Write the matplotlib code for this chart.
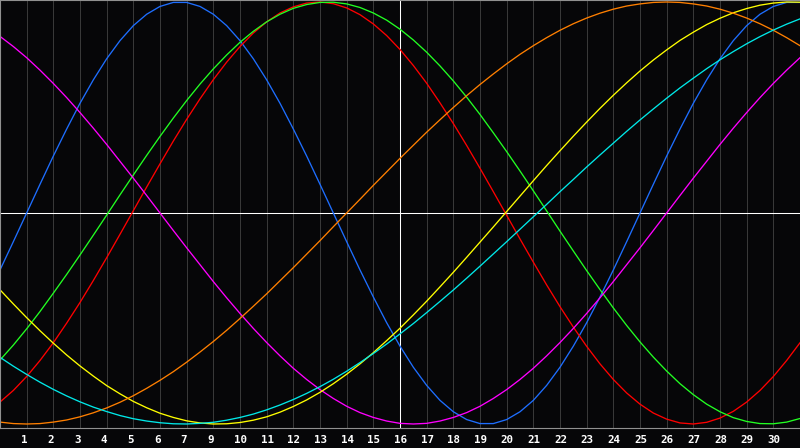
import numpy as np
import matplotlib
matplotlib.use('Agg')
import matplotlib.pyplot as plt

# biorhythm chart, values in percent sampled every half day
days = np.arange(0, 30.01, 0.5)

physical = [-27, -13.6, 0, 13.6, 27, 39.8, 52, 63.1, 73.1, 81.7, 88.8, 94.2, 97.9, 99.8, 99.8, 97.9, 94.2, 88.8, 81.7, 73.1, 63.1, 52, 39.8, 27, 13.6, 0, -13.6, -27, -39.8, -52, -63.1, -73.1, -81.7, -88.8, -94.2, -97.9, -99.8, -99.8, -97.9, -94.2, -88.8, -81.7, -73.1, -63.1, -52, -39.8, -27, -13.6, 0, 13.6, 27, 39.8, 52, 63.1, 73.1, 81.7, 88.8, 94.2, 97.9, 99.8, 99.8]
emotional = [-89.6, -84.1, -77.5, -69.9, -61.5, -52.2, -42.4, -32, -21.2, -10.1, 1.1, 12.3, 23.3, 34.1, 44.4, 54.1, 63.2, 71.5, 78.9, 85.3, 90.6, 94.8, 97.7, 99.5, 100, 99.2, 97.2, 94, 89.6, 84.1, 77.5, 69.9, 61.5, 52.2, 42.4, 32, 21.2, 10.1, -1.1, -12.3, -23.3, -34.1, -44.4, -54.1, -63.2, -71.5, -78.9, -85.3, -90.6, -94.8, -97.7, -99.5, -100, -99.2, -97.2, -94, -89.6, -84.1, -77.5, -69.9, -61.5]
intellectual = [-69.7, -62.6, -54.9, -46.7, -38, -29.1, -19.9, -10.5, -1, 8.6, 18, 27.3, 36.3, 45, 53.3, 61.1, 68.3, 74.9, 80.9, 86.1, 90.6, 94.2, 97, 98.8, 99.8, 99.9, 99.1, 97.4, 94.8, 91.4, 87.1, 82, 76.2, 69.7, 62.6, 54.9, 46.7, 38, 29.1, 19.9, 10.5, 1, -8.6, -18, -27.3, -36.3, -45, -53.3, -61.1, -68.3, -74.9, -80.9, -86.1, -90.6, -94.2, -97, -98.8, -99.8, -99.9, -99.1, -97.4]
intuitive = [83.7, 78.9, 73.6, 67.7, 61.4, 54.7, 47.6, 40.2, 32.5, 24.5, 16.5, 8.3, 0, -8.3, -16.5, -24.5, -32.5, -40.2, -47.6, -54.7, -61.4, -67.7, -73.6, -78.9, -83.7, -87.9, -91.6, -94.6, -96.9, -98.6, -99.7, -100, -99.7, -98.6, -96.9, -94.6, -91.6, -87.9, -83.7, -78.9, -73.6, -67.7, -61.4, -54.7, -47.6, -40.2, -32.5, -24.5, -16.5, -8.3, 0, 8.3, 16.5, 24.5, 32.5, 40.2, 47.6, 54.7, 61.4, 67.7, 73.6]
aesthetic = [-36.4, -43.1, -49.6, -55.8, -61.7, -67.3, -72.5, -77.3, -81.8, -85.7, -89.3, -92.3, -94.9, -96.9, -98.5, -99.5, -100, -99.9, -99.3, -98.2, -96.6, -94.4, -91.7, -88.6, -85, -80.9, -76.4, -71.5, -66.2, -60.5, -54.6, -48.3, -41.8, -35, -28.1, -21, -13.8, -6.6, 0.7, 8, 15.3, 22.5, 29.5, 36.4, 43.1, 49.6, 55.8, 61.7, 67.3, 72.5, 77.3, 81.8, 85.7, 89.3, 92.3, 94.9, 96.9, 98.5, 99.5, 100, 99.9]
awareness = [-99.1, -99.8, -100, -99.8, -99.1, -98.1, -96.6, -94.7, -92.4, -89.7, -86.6, -83.1, -79.3, -75.2, -70.7, -65.9, -60.9, -55.6, -50, -44.2, -38.3, -32.1, -25.9, -19.5, -13.1, -6.5, 0, 6.5, 13.1, 19.5, 25.9, 32.1, 38.3, 44.2, 50, 55.6, 60.9, 65.9, 70.7, 75.2, 79.3, 83.1, 86.6, 89.7, 92.4, 94.7, 96.6, 98.1, 99.1, 99.8, 100, 99.8, 99.1, 98.1, 96.6, 94.7, 92.4, 89.7, 86.6, 83.1, 79.3]
spiritual = [-68.4, -72.6, -76.5, -80.2, -83.6, -86.7, -89.5, -92, -94.1, -96, -97.5, -98.6, -99.4, -99.9, -100, -99.7, -99.2, -98.2, -96.9, -95.3, -93.3, -91, -88.4, -85.5, -82.3, -78.8, -75, -70.9, -66.6, -62.1, -57.3, -52.4, -47.2, -41.9, -36.5, -30.9, -25.2, -19.4, -13.6, -7.7, -1.8, 4.1, 10.1, 15.9, 21.8, 27.5, 33.1, 38.7, 44.1, 49.3, 54.4, 59.3, 63.9, 68.4, 72.6, 76.5, 80.2, 83.6, 86.7, 89.5, 92]

day_labels = [1, 2, 3, 4, 5, 6, 7, 9, 10, 11, 12, 13, 14, 15, 16, 17, 18, 19, 20, 21, 22, 23, 24, 25, 26, 27, 28, 29, 30]

series = [physical, emotional, intellectual, intuitive, aesthetic, awareness, spiritual]
colors = ['#1e6eff', '#ff0000', '#22ff22', '#ff00ff', '#ffff00', '#ff7f00', '#00e8e8']

fig = plt.figure(figsize=(8, 4.48), dpi=100, facecolor='#060608')
ax = fig.add_axes([0, 20 / 448, 1, 428 / 448])
ax.set_facecolor('#060608')

for k in range(1, 30):
    ax.axvline(k, color='white' if k == 15 else '#383838', lw=0.75, zorder=1)
ax.axhline(0, color='white', lw=0.75, zorder=1)

for vals, c in zip(series, colors):
    ax.plot(days, vals, color=c, lw=0.95, zorder=2)

ax.set_xlim(0, 30)
ax.set_ylim(-101.9, 100.95)
ax.set_xticks([])
ax.set_yticks([])
for s in ax.spines.values():
    s.set_color('#909090')
ax.spines['right'].set_visible(False)

for k, lab in enumerate(day_labels, start=1):
    fig.text((k - 0.225) / 30, 5 / 448, str(lab), color='white', ha='left', va='baseline',
             fontsize=7.8, fontweight='bold', family='DejaVu Sans Mono')

plt.savefig('out.png', facecolor=fig.get_facecolor())
